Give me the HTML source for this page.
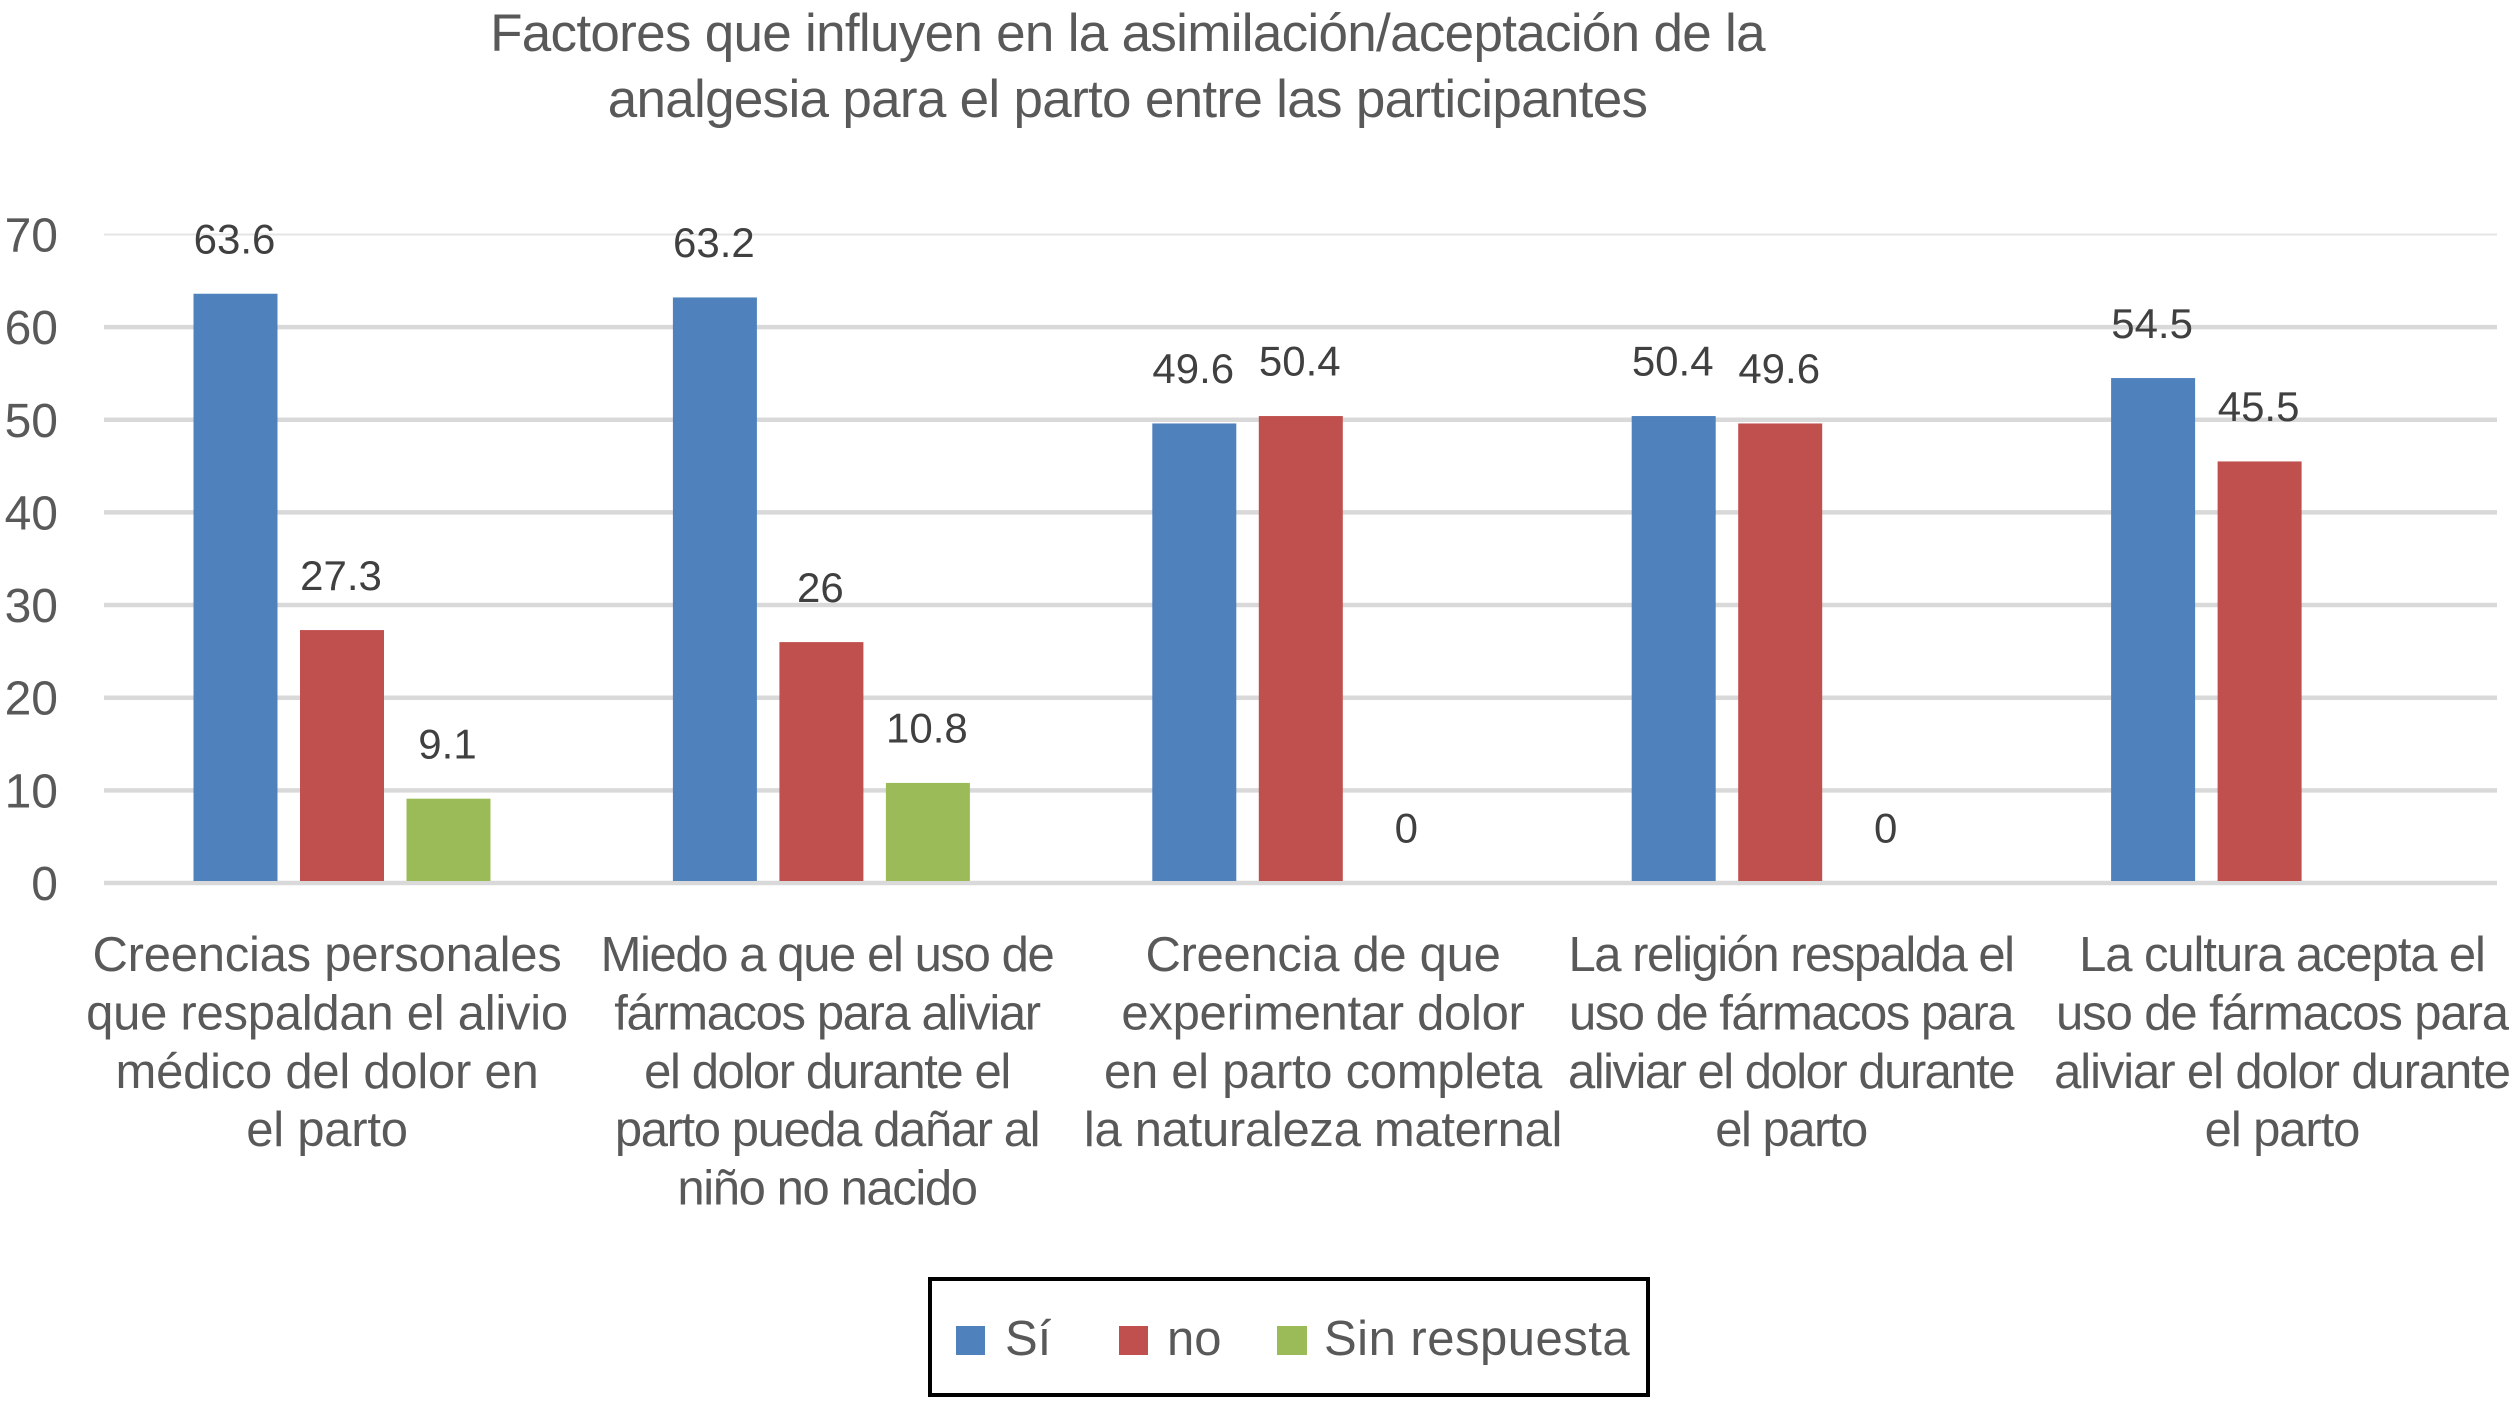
<!DOCTYPE html>
<html lang="es">
<head>
<meta charset="utf-8">
<title>Factores que influyen en la analgesia para el parto</title>
<style>
html,body{margin:0;padding:0;background:#fff;}
svg{display:block;font-family:"Liberation Sans",Arial,sans-serif;}
</style>
</head>
<body>
<svg id="chart" xmlns="http://www.w3.org/2000/svg" width="2514" height="1402" viewBox="0 0 2514 1402">
  <rect x="0" y="0" width="2514" height="1402" fill="#ffffff"/>
  <g font-size="53" fill="#595959" text-anchor="middle" letter-spacing="-0.7">
    <text x="1127.5" y="51">Factores que influyen en la asimilación/aceptación de la</text>
    <text x="1127.5" y="117">analgesia para el parto entre las participantes</text>
  </g>
  <g id="grid"></g>
  <g id="yticks"></g>
  <g id="bars"></g>
  <g id="values"></g>
  <g id="cats"></g>
  <g>
    <rect x="930" y="1279" width="718" height="116" fill="#ffffff" stroke="#000000" stroke-width="4"/>
    <rect x="956" y="1326" width="29" height="29" fill="#4f81bd"/>
    <text x="1005" y="1355" font-size="49" fill="#595959">Sí</text>
    <rect x="1119" y="1326" width="29" height="29" fill="#c0504d"/>
    <text x="1167" y="1355" font-size="49" fill="#595959">no</text>
    <rect x="1277" y="1326" width="30" height="29" fill="#9bbb59"/>
    <text x="1324" y="1355" font-size="49" fill="#595959" letter-spacing="0.5">Sin respuesta</text>
  </g>
</svg>
<script>
const categories = [
  ["Creencias personales","que respaldan el alivio","médico del dolor en","el parto"],
  ["Miedo a que el uso de","fármacos para aliviar","el dolor durante el","parto pueda dañar al","niño no nacido"],
  ["Creencia de que","experimentar dolor","en el parto completa","la naturaleza maternal"],
  ["La religión respalda el","uso de fármacos para","aliviar el dolor durante","el parto"],
  ["La cultura acepta el","uso de fármacos para","aliviar el dolor durante","el parto"]
];
const seriesSi = [63.6, 63.2, 49.6, 50.4, 54.5];
const seriesNo = [27.3, 26, 50.4, 49.6, 45.5];
const seriesSinRespuesta = [9.1, 10.8, 0, 0, null];
const yTicks = [0, 10, 20, 30, 40, 50, 60, 70];

const NS = "http://www.w3.org/2000/svg";
const yZero = 883, yPerUnit = 9.265;
const firstCenter = 342, groupStep = 479.4, barStep = 106.5, barWidth = 84;

function yScale(v) { return yZero - v * yPerUnit; }
function xScale(g, s) { return firstCenter + g * groupStep + (s - 1) * barStep; }

function make(tag, attrs, parent, txt) {
  const el = document.createElementNS(NS, tag);
  for (const k in attrs) el.setAttribute(k, attrs[k]);
  if (txt !== undefined) el.textContent = txt;
  parent.appendChild(el);
  return el;
}

const grid = document.getElementById("grid");
const yt = document.getElementById("yticks");
yTicks.forEach(function (t) {
  const line = make("line", {x1: 104, x2: 2497, y1: yScale(t), y2: yScale(t), stroke: t === 70 ? "#e4e4e4" : "#d9d9d9", "stroke-width": t === 70 ? 2 : 4.5}, grid);
  
  
  const lab = make("text", {x: 58, y: yScale(t) + 17, "text-anchor": "end", "font-size": 48, fill: "#595959"}, yt, String(t));
  
  
});

const barsG = document.getElementById("bars");
const valuesG = document.getElementById("values");
const seriesList = [seriesSi, seriesNo, seriesSinRespuesta];
const seriesColors = ["#4f81bd", "#c0504d", "#9bbb59"];
seriesList.forEach(function (vals, s) {
  vals.forEach(function (v, g) {
    if (v === null) return;
    const cx = xScale(g, s);
    if (v > 0) {
      const bar = make("rect", {x: cx - barWidth / 2, y: yScale(v), width: barWidth, height: yZero - 2 - yScale(v), fill: seriesColors[s]}, barsG);
      
      
    }
    const lab = make("text", {x: cx - 1, y: yScale(v) - 40.3, "text-anchor": "middle", "font-size": 42, fill: "#404040"}, valuesG, String(v));
    
    
  });
});

const catsG = document.getElementById("cats");
const labelCenters = [327, 827, 1323, 1791, 2282];
const labelSpacing = [-0.25, -1.4, -0.3, -1.5, -1.1];
categories.forEach(function (lines, g) {
  lines.forEach(function (ln, i) {
    const lab = make("text", {x: labelCenters[g], y: 971 + i * 58.4, "text-anchor": "middle", "font-size": 49, "letter-spacing": labelSpacing[g], fill: "#595959"}, catsG, ln);
    
    
  });
});
</script>
</body>
</html>
